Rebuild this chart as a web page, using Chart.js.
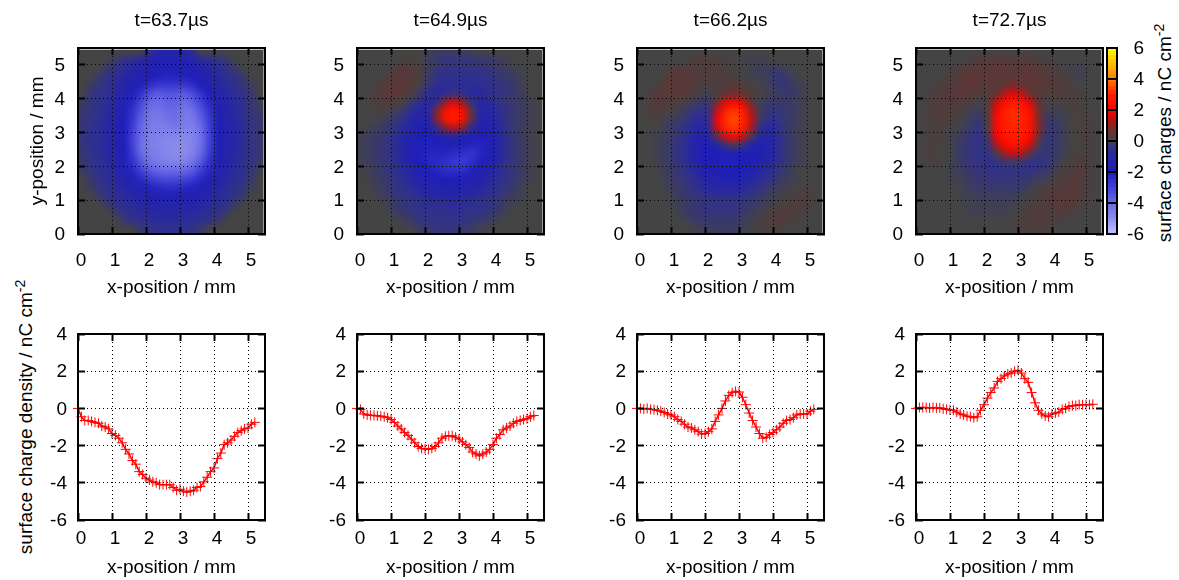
<!DOCTYPE html>
<html>
<head>
<meta charset="utf-8">
<style>
    html, body { margin: 0; padding: 0; background: #fff; overflow: hidden; }
    canvas { position: absolute; }
    .rotated {
        position: absolute;
        font: 19px "Liberation Sans", sans-serif;
        color: #000;
        white-space: nowrap;
        transform: translate(-50%, -50%) rotate(-90deg);
    }
    .rotated sup { font-size: 14px; line-height: 0; }
</style>
<script src="https://cdn.jsdelivr.net/npm/chart.js@4"></script>
</head>
<body>
<div class="rotated" style="left:26px; top:417px">surface charge density / nC cm<sup>-2</sup></div>
<div class="rotated" style="left:1165px; top:133px">surface charges / nC cm<sup>-2</sup></div>
<script>
const panelTitles = ['t=63.7µs', 't=64.9µs', 't=66.2µs', 't=72.7µs'];
const xTitle = 'x-position / mm';
const yTitle = 'y-position / mm';

// colour scale of the maps
const colorStops = [-6, -5, -4, -3, -2, -1, -0.5, -0.25, 0, 0.25, 0.5, 1, 2, 3, 4, 6];
const colorValues = [[192,192,255], [138,138,236], [105,105,230], [62,62,214], [30,30,185], [38,38,165], [50,50,135], [58,58,102], [68,68,68], [84,58,58], [96,54,54], [150,30,30], [255,0,0], [255,35,0], [255,128,0], [255,255,0]];
const colorbarEdges = [-6,-5.75,-5.5,-5.25,-5,-4.75,-4.5,-4.25,-4,-3.75,-3.5,-3.25,-3,-2.75,-2.5,-2.25,-2,-1.75,-1.5,-1.25,-1,-0.75,-0.5,-0.25,0,0.25,0.5,0.75,1,1.25,1.5,1.75,2,2.25,2.5,2.75,3,3.25,3.5,3.75,4,4.25,4.5,4.75,5,5.25,5.5,5.75,6];

// centres of the map cells in mm (rows below run top to bottom)
const cellX = [0.125,0.375,0.625,0.875,1.125,1.375,1.625,1.875,2.125,2.375,2.625,2.875,3.125,3.375,3.625,3.875,4.125,4.375,4.625,4.875,5.125,5.375];
const cellY = [5.375,5.125,4.875,4.625,4.375,4.125,3.875,3.625,3.375,3.125,2.875,2.625,2.375,2.125,1.875,1.625,1.375,1.125,0.875,0.625,0.375,0.125];

const map637 = [
[0,0,0,0,0,0,0,0,-.7,-1.1,-1.2,-1.2,-1.1,-.7,0,0,0,0,0,0,0,0],
[0,0,0,0,-.3,-.5,-.7,-.9,-1.2,-1.5,-1.6,-1.6,-1.5,-1.2,-.9,-.7,-.5,-.3,0,0,0,0],
[0,0,0,-.3,-.5,-.7,-1,-1.3,-1.6,-1.8,-1.9,-1.9,-1.8,-1.6,-1.3,-1,-.7,-.5,-.3,0,0,0],
[0,0,-.3,-.5,-.7,-.9,-1.2,-1.6,-1.9,-2.1,-2.2,-2.2,-2.1,-1.9,-1.6,-1.2,-.9,-.7,-.5,-.3,0,0],
[0,-.2,-.4,-.6,-.8,-1.1,-1.6,-2.1,-2.5,-2.8,-2.8,-2.8,-2.8,-2.5,-2,-1.5,-1.1,-.8,-.6,-.4,-.2,0],
[0,-.4,-.5,-.6,-.9,-1.4,-2,-2.7,-3.4,-3.7,-3.5,-3.5,-3.7,-3.3,-2.7,-1.9,-1.3,-1,-.7,-.5,-.3,0],
[-.2,-.4,-.5,-.7,-1,-1.6,-2.3,-3.2,-3.9,-4.1,-3.8,-3.8,-4.1,-3.8,-3.1,-2.3,-1.5,-1.1,-.8,-.6,-.4,-.1],
[-.3,-.4,-.6,-.8,-1.2,-1.8,-2.6,-3.5,-4.2,-4.4,-4,-4,-4.4,-4.3,-3.5,-2.6,-1.7,-1.2,-.9,-.6,-.4,-.2],
[-.3,-.5,-.6,-.9,-1.3,-1.9,-2.8,-3.8,-4.4,-4.5,-4.3,-4.1,-4.5,-4.5,-3.8,-2.9,-1.9,-1.3,-.9,-.7,-.5,-.3],
[-.4,-.5,-.7,-.9,-1.4,-2,-3,-4,-4.5,-4.6,-4.6,-4.4,-4.6,-4.7,-4.1,-3,-2,-1.4,-1,-.7,-.5,-.3],
[-.4,-.6,-.7,-.9,-1.4,-2,-3.1,-4.1,-4.6,-4.7,-4.8,-4.8,-4.9,-4.8,-4.2,-3.1,-2,-1.4,-1,-.7,-.5,-.3],
[-.4,-.6,-.7,-.9,-1.4,-2,-3.1,-4.2,-4.6,-4.8,-4.9,-5,-5,-4.8,-4.2,-3.1,-2,-1.4,-1,-.7,-.5,-.3],
[-.3,-.5,-.7,-.9,-1.3,-1.9,-2.9,-4,-4.5,-4.7,-4.9,-5,-5,-4.7,-4,-2.9,-1.9,-1.3,-.9,-.7,-.5,-.3],
[-.3,-.5,-.6,-.8,-1.2,-1.7,-2.6,-3.6,-4.3,-4.5,-4.7,-4.8,-4.7,-4.4,-3.6,-2.6,-1.7,-1.2,-.9,-.6,-.5,-.2],
[-.2,-.4,-.6,-.7,-1.1,-1.5,-2.3,-3.1,-3.7,-4,-4.1,-4.1,-4,-3.7,-3,-2.3,-1.5,-1.1,-.8,-.6,-.4,-.1],
[0,-.3,-.5,-.7,-.9,-1.3,-1.8,-2.4,-2.9,-3.2,-3.3,-3.3,-3.2,-2.9,-2.4,-1.8,-1.3,-.9,-.7,-.6,-.3,0],
[0,-.2,-.4,-.6,-.8,-1.1,-1.4,-1.8,-2.2,-2.4,-2.5,-2.5,-2.4,-2.2,-1.8,-1.4,-1.1,-.8,-.6,-.4,-.2,0],
[0,0,-.3,-.5,-.7,-.8,-1.1,-1.4,-1.6,-1.7,-1.8,-1.8,-1.7,-1.6,-1.4,-1.1,-.8,-.7,-.5,-.3,0,0],
[0,0,0,-.3,-.6,-.7,-.8,-1,-1.2,-1.3,-1.3,-1.3,-1.3,-1.2,-1,-.8,-.7,-.6,-.3,0,0,0],
[0,0,0,0,-.3,-.6,-.7,-.8,-.9,-1,-1,-1,-1,-.9,-.8,-.7,-.6,-.3,0,0,0,0],
[0,0,0,0,0,-.3,-.5,-.6,-.7,-.8,-.8,-.8,-.8,-.7,-.6,-.5,-.3,0,0,0,0,0],
[0,0,0,0,0,0,0,-.3,-.5,-.6,-.6,-.6,-.6,-.5,-.3,0,0,0,0,0,0,0]
];

const map649 = [
[0,0,0,0,0,0,0,0,-.1,-.2,-.2,-.2,-.2,-.1,0,0,0,0,0,0,0,0],
[0,0,0,0,0,.1,.1,0,-.2,-.3,-.4,-.4,-.4,-.4,-.3,-.3,-.2,-.1,0,0,0,0],
[0,0,0,0,.1,.3,.3,.1,-.2,-.4,-.5,-.5,-.5,-.5,-.5,-.4,-.3,-.2,-.1,0,0,0],
[0,0,0,.1,.3,.4,.3,.1,-.2,-.5,-.6,-.6,-.6,-.6,-.6,-.5,-.4,-.3,-.2,-.1,0,0],
[0,0,.1,.3,.4,.4,.2,0,-.4,-.7,-.8,-.7,-.7,-.8,-.7,-.6,-.5,-.4,-.3,-.1,0,0],
[0,0,.2,.4,.4,.3,.1,-.3,-.7,-.9,-.7,-.4,-.6,-.9,-.9,-.7,-.5,-.4,-.3,-.2,0,0],
[0,.1,.2,.3,.2,0,-.3,-.7,-1,-.6,1,1.7,.9,-.5,-1,-.9,-.6,-.4,-.3,-.2,-.1,0],
[0,0,.1,0,-.1,-.3,-.7,-1.1,-.9,.8,2.4,2.8,2.2,.4,-1,-1,-.7,-.5,-.3,-.2,-.1,0],
[0,0,0,-.2,-.3,-.6,-1,-1.3,-1.1,.9,2.5,2.9,2.3,.4,-1.1,-1.2,-.9,-.5,-.3,-.2,-.1,0],
[0,-.1,-.2,-.3,-.5,-.8,-1.3,-1.7,-1.6,-.6,.9,1.5,.7,-.7,-1.5,-1.5,-1,-.6,-.3,-.2,-.1,0],
[-.1,-.2,-.3,-.4,-.6,-1,-1.6,-2,-2,-1.7,-1.2,-1,-1.2,-1.7,-2,-1.7,-1.1,-.7,-.4,-.2,-.1,0],
[-.1,-.2,-.3,-.4,-.7,-1.1,-1.7,-2.1,-2.1,-1.9,-1.7,-1.7,-1.9,-2.2,-2.2,-1.8,-1.2,-.7,-.4,-.2,-.1,0],
[-.1,-.2,-.3,-.4,-.7,-1.1,-1.7,-2.1,-2.2,-2.2,-2.2,-2.4,-2.6,-2.7,-2.3,-1.8,-1.2,-.7,-.4,-.2,-.1,0],
[-.1,-.2,-.3,-.4,-.6,-1,-1.5,-2,-2.3,-2.4,-2.6,-2.8,-2.9,-2.6,-2.1,-1.6,-1.1,-.6,-.4,-.2,-.1,0],
[0,-.1,-.3,-.4,-.6,-.9,-1.3,-1.7,-2,-2.3,-2.5,-2.5,-2.5,-2.1,-1.8,-1.3,-.9,-.6,-.4,-.2,-.1,0],
[0,-.1,-.2,-.3,-.5,-.7,-1,-1.4,-1.7,-1.9,-2,-2,-1.9,-1.7,-1.4,-1,-.7,-.5,-.3,-.2,-.1,0],
[0,0,-.2,-.3,-.4,-.6,-.8,-1,-1.3,-1.4,-1.5,-1.5,-1.4,-1.2,-1,-.8,-.6,-.4,-.3,-.1,0,0],
[0,0,-.1,-.2,-.4,-.5,-.6,-.8,-1,-1,-1.1,-1.1,-1,-.9,-.8,-.6,-.5,-.3,-.2,-.1,0,0],
[0,0,0,-.1,-.3,-.4,-.5,-.6,-.7,-.7,-.8,-.8,-.7,-.7,-.6,-.5,-.4,-.2,-.1,0,0,0],
[0,0,0,0,-.2,-.3,-.4,-.5,-.5,-.6,-.6,-.6,-.6,-.5,-.5,-.4,-.3,-.1,0,0,0,0],
[0,0,0,0,0,-.1,-.3,-.4,-.5,-.5,-.5,-.5,-.5,-.4,-.3,-.2,-.1,0,0,0,0,0],
[0,0,0,0,0,0,0,-.2,-.3,-.4,-.4,-.4,-.3,-.2,-.1,0,0,0,0,0,0,0]
];

const map662 = [
[0,0,0,0,0,0,0,0,0,0,0,0,0,0,0,0,0,0,0,0,0,0],
[0,0,0,0,0,0,.1,.2,.2,.1,.1,0,0,-.1,-.1,0,0,0,0,0,0,0],
[0,0,0,0,.2,.3,.2,.2,.2,.2,.1,0,0,-.1,-.2,-.2,-.2,-.1,0,0,0,0],
[0,0,0,.2,.4,.4,.3,.2,.2,.2,.1,.1,0,-.1,-.1,-.2,-.4,-.3,-.1,0,0,0],
[0,0,.1,.4,.4,.4,.3,.1,.1,.1,.2,.3,.2,.1,0,-.1,-.3,-.4,-.2,-.1,0,0],
[0,.1,.3,.4,.4,.3,.2,0,-.1,.1,.5,.7,.5,.2,0,-.1,-.2,-.3,-.3,-.1,0,0],
[0,.2,.3,.3,.2,.1,-.1,-.3,-.3,.6,1.8,2.2,1.7,.4,-.1,-.3,-.3,-.3,-.2,-.1,0,0],
[0,.1,.2,.1,0,-.2,-.4,-.5,-.5,1.5,2.9,3.2,2.8,1.2,-.1,-.4,-.4,-.3,-.2,-.1,0,0],
[0,.1,.1,-.1,-.2,-.3,-.6,-.8,-.6,1.9,3.1,3.5,3,1.5,-.2,-.6,-.5,-.3,-.2,-.1,0,0],
[0,0,0,-.2,-.3,-.5,-.8,-1.1,-.7,1.7,3,3.3,2.8,1.2,-.5,-.9,-.7,-.4,-.2,-.1,0,0],
[0,0,-.1,-.2,-.3,-.6,-1,-1.3,-1.1,.4,1.8,2.2,1.6,.1,-1.1,-1.2,-.8,-.4,-.2,-.1,0,0],
[0,0,-.1,-.2,-.4,-.6,-1.1,-1.5,-1.7,-1.2,-.3,.1,-.4,-1.3,-1.6,-1.3,-.8,-.4,-.2,-.1,0,0],
[0,0,-.1,-.2,-.4,-.6,-1.1,-1.6,-1.9,-2,-1.8,-1.6,-1.7,-1.8,-1.7,-1.3,-.8,-.4,-.2,-.1,0,0],
[0,0,-.1,-.2,-.4,-.6,-1,-1.5,-1.9,-2,-2.1,-2.1,-2,-1.8,-1.5,-1.1,-.7,-.4,-.2,-.1,0,0],
[0,0,0,-.2,-.3,-.5,-.8,-1.2,-1.6,-1.9,-2,-2,-1.9,-1.6,-1.2,-.8,-.5,-.3,-.1,0,0,0],
[0,0,0,-.1,-.3,-.4,-.6,-.9,-1.2,-1.4,-1.6,-1.6,-1.4,-1.1,-.8,-.6,-.3,-.2,-.1,0,0,0],
[0,0,0,-.1,-.2,-.3,-.5,-.7,-.9,-1,-1,-1,-.9,-.7,-.5,-.3,-.2,-.1,0,0,.1,0],
[0,0,0,0,-.2,-.3,-.4,-.5,-.6,-.7,-.7,-.7,-.6,-.5,-.3,-.2,-.1,0,.1,.2,.1,0],
[0,0,0,0,-.1,-.2,-.3,-.4,-.5,-.5,-.5,-.5,-.4,-.3,-.2,-.1,0,.1,.2,.2,.1,0],
[0,0,0,0,0,-.2,-.3,-.4,-.4,-.4,-.4,-.4,-.3,-.2,-.1,.1,.2,.2,.2,.1,0,0],
[0,0,0,0,0,0,-.2,-.3,-.3,-.3,-.3,-.3,-.2,-.1,.1,.2,.2,.2,.1,0,0,0],
[0,0,0,0,0,0,0,-.1,-.2,-.2,-.2,-.2,-.1,0,.1,.1,.1,0,0,0,0,0]
];

const map727 = [
[0,0,0,0,0,0,0,0,0,0,0,0,0,0,0,0,0,0,0,0,0,0],
[0,0,0,0,0,0,.1,.2,.3,.3,.3,.3,.2,.2,.1,.1,0,0,0,0,0,0],
[0,0,0,0,.1,.2,.3,.4,.4,.4,.4,.4,.4,.4,.3,.2,.1,0,-.1,-.1,0,0],
[0,0,0,.1,.2,.3,.4,.5,.4,.4,.4,.4,.4,.5,.4,.3,.2,.1,0,-.1,0,0],
[0,0,.1,.2,.3,.4,.5,.4,.4,.3,.5,.7,.6,.4,.4,.3,.3,.2,.1,0,0,0],
[0,.1,.2,.3,.3,.4,.3,.2,.2,.5,1.3,1.8,1.4,.5,.3,.2,.2,.2,.1,.1,0,0],
[0,.1,.2,.2,.3,.2,.1,0,.1,1.4,2.4,2.7,2.5,1.6,.3,0,.1,.1,.1,.1,0,0],
[0,.1,.2,.2,.2,.1,-.1,-.2,.1,2,2.8,3.1,2.9,2.3,.6,-.1,-.1,0,.1,.1,0,0],
[0,.1,.2,.2,.1,0,-.2,-.3,.1,2.2,2.9,3.1,3,2.5,.8,-.3,-.2,-.1,0,.1,.1,0],
[0,.1,.1,.1,0,-.1,-.3,-.5,0,2.2,2.8,3,2.9,2.5,.8,-.3,-.3,-.1,0,.1,.1,0],
[0,.1,.1,.1,-.1,-.2,-.4,-.5,-.2,2,2.6,2.8,2.7,2.3,.5,-.4,-.3,-.1,0,.1,.1,0],
[0,.1,.1,0,-.1,-.3,-.4,-.5,-.4,1.2,2.3,2.5,2.4,1.6,-.1,-.4,-.3,-.1,0,.1,.1,0],
[0,.1,.1,0,-.1,-.3,-.4,-.5,-.5,0,1.2,1.6,1.3,.2,-.4,-.4,-.3,-.1,.1,.1,.1,0],
[0,.1,.1,0,-.1,-.3,-.4,-.5,-.6,-.5,-.3,-.2,-.3,-.5,-.5,-.4,-.2,0,.1,.2,.1,0],
[0,0,0,0,-.1,-.2,-.3,-.4,-.5,-.5,-.5,-.5,-.5,-.5,-.4,-.3,-.1,.1,.2,.2,.1,0],
[0,0,0,0,-.1,-.1,-.3,-.3,-.4,-.4,-.4,-.4,-.4,-.3,-.2,-.1,.1,.2,.3,.2,.1,0],
[0,0,0,0,0,-.1,-.2,-.3,-.3,-.3,-.3,-.3,-.3,-.1,0,.1,.2,.3,.3,.2,.1,0],
[0,0,0,0,0,-.1,-.1,-.2,-.2,-.2,-.2,-.2,-.1,0,.1,.2,.3,.3,.3,.2,.1,0],
[0,0,0,0,0,0,-.1,-.1,-.1,-.1,-.1,-.1,0,.1,.2,.2,.3,.3,.2,.1,0,0],
[0,0,0,0,0,0,-.1,-.1,-.1,-.1,-.1,0,.1,.2,.2,.2,.2,.2,.1,0,0,0],
[0,0,0,0,0,0,0,0,0,0,0,.1,.1,.2,.2,.2,.1,.1,0,0,0,0],
[0,0,0,0,0,0,0,0,0,0,0,0,.1,.1,.1,.1,0,0,0,0,0,0]
];

// line cuts
const cutX = [0,0.1,0.2,0.3,0.4,0.5,0.6,0.7,0.8,0.9,1,1.1,1.2,1.3,1.4,1.5,1.6,1.7,1.8,1.9,2,2.1,2.2,2.3,2.4,2.5,2.6,2.7,2.8,2.9,3,3.1,3.2,3.3,3.4,3.5,3.6,3.7,3.8,3.9,4,4.1,4.2,4.3,4.4,4.5,4.6,4.7,4.8,4.9,5,5.1,5.2];
const cut637 = [0,-.45,-.65,-.65,-.7,-.75,-.8,-.95,-1,-1.1,-1.35,-1.45,-1.6,-1.85,-2.2,-2.45,-2.8,-3,-3.4,-3.55,-3.75,-3.85,-3.95,-4,-4.1,-4.1,-4.1,-4.1,-4.25,-4.4,-4.35,-4.45,-4.5,-4.45,-4.4,-4.25,-4.2,-3.95,-3.7,-3.4,-3.2,-2.7,-2.4,-1.95,-1.85,-1.7,-1.5,-1.3,-1.2,-1.1,-1.05,-.85,-.75];
const cut649 = [0,-.05,-.3,-.35,-.37,-.38,-.4,-.42,-.45,-.5,-.6,-.75,-.95,-1.1,-1.3,-1.45,-1.65,-1.85,-2.05,-2.15,-2.18,-2.2,-2.15,-2.05,-1.85,-1.6,-1.5,-1.47,-1.47,-1.55,-1.65,-1.8,-1.95,-2.1,-2.35,-2.45,-2.55,-2.45,-2.35,-2.2,-1.95,-1.6,-1.4,-1.15,-1.05,-.95,-.8,-.7,-.65,-.6,-.55,-.45,-.38];
const cut662 = [0,0,-.03,0,-.05,-.07,-.1,-.15,-.22,-.3,-.35,-.45,-.6,-.7,-.85,-1,-1.05,-1.15,-1.25,-1.38,-1.35,-1.25,-1.1,-.7,-.35,0,.4,.7,.85,.92,.88,.6,.2,-.25,-.65,-1,-1.35,-1.6,-1.55,-1.4,-1.3,-1.15,-1,-.8,-.65,-.6,-.5,-.35,-.3,-.3,-.3,-.15,-.05];
const cut727 = [0,.05,.05,.05,.02,.05,.03,.03,-.02,-.05,-.08,-.1,-.2,-.3,-.35,-.42,-.45,-.5,-.45,-.1,.2,.55,.85,1.1,1.45,1.6,1.75,1.85,1.9,2,2.05,1.9,1.6,1.4,.85,.3,-.1,-.3,-.4,-.45,-.3,-.25,-.2,-.05,0,.1,.15,.15,.2,.2,.2,.2,.22];

const maps = [map637, map649, map662, map727];
const cuts = [cut637, cut649, cut662, cut727];

const plotLefts = [78, 357, 637, 916];
const plotWidth = 187;
const marginLeft = 78;
const marginRight = 8;
const font = { family: '"Liberation Sans", sans-serif', size: 19 };

function colorFor(value) {
    let i = 0;
    while (i < colorStops.length - 2 && value > colorStops[i + 1]) i++;
    const f = (value - colorStops[i]) / (colorStops[i + 1] - colorStops[i]);
    const a = colorValues[i], b = colorValues[i + 1];
    const c = a.map((v, k) => Math.round(v + (b[k] - v) * f));
    return `rgb(${c[0]},${c[1]},${c[2]})`;
}

function makeCanvas(left, top, width, height) {
    const canvas = document.createElement('canvas');
    canvas.width = width;
    canvas.height = height;
    canvas.style.left = left + 'px';
    canvas.style.top = top + 'px';
    canvas.style.width = width + 'px';
    canvas.style.height = height + 'px';
    document.body.appendChild(canvas);
    return canvas;
}

// fixes the axis box and drops the label overhang, so the plot areas land where they should
function sized(prop, size) {
    return (scale) => {
        scale[prop] = size;
        scale.paddingTop = 0;
        scale.paddingBottom = 0;
        scale.paddingLeft = 0;
        scale.paddingRight = 0;
    };
}

function mainAxis(position, min, max, step, prop, size, padding, title) {
    return {
        type: 'linear', position, min, max,
        afterFit: sized(prop, size),
        ticks: { stepSize: step, includeBounds: false, autoSkip: false, maxRotation: 0, color: '#000', font, padding, labelOffset: position === 'bottom' ? 3 : 1 },
        grid: { color: '#000', lineWidth: 1, z: 1, tickLength: -7, tickColor: '#000', tickWidth: 2 },
        border: { color: '#000', width: 2, dash: [1, 3], z: 2 },
        title: title
    };
}

function mirrorAxis(position, min, max, step, prop, size) {
    return {
        type: 'linear', position, min, max,
        afterFit: sized(prop, size),
        ticks: { display: false, stepSize: step, includeBounds: false, autoSkip: false },
        grid: { drawOnChartArea: false, z: 1, tickLength: -7, tickColor: '#000', tickWidth: 2 },
        border: { color: '#000', width: 2, z: 2 }
    };
}

// smooths the map cells and leaves the thin unscanned strip at top and right
const smoothCells = {
    id: 'smoothCells',
    beforeDatasetsDraw(chart) {
        const a = chart.chartArea, ctx = chart.ctx;
        ctx.save();
        ctx.fillStyle = 'rgb(68,68,68)';
        ctx.fillRect(a.left, a.top, a.width, a.height);
        ctx.restore();
    },
    afterDatasetsDraw(chart) {
        const a = chart.chartArea, ctx = chart.ctx;
        ctx.save();
        ctx.beginPath();
        ctx.rect(a.left, a.top, a.width, a.height);
        ctx.clip();
        ctx.filter = 'blur(3px)';
        ctx.drawImage(chart.canvas, a.left, a.top, a.width, a.height, a.left, a.top, a.width, a.height);
        ctx.filter = 'none';
        ctx.fillStyle = '#ddd';
        ctx.fillRect(a.left, a.top, a.width, 2);
        ctx.fillStyle = '#999';
        ctx.fillRect(a.right - 2, a.top, 2, a.height);
        ctx.restore();
    }
};

function drawMap(i) {
    const points = [], colors = [];
    maps[i].forEach((row, r) => {
        row.forEach((value, c) => {
            points.push({ x: cellX[c], y: cellY[r] });
            colors.push(colorFor(value));
        });
    });
    const canvas = makeCanvas(plotLefts[i] - marginLeft, 0, marginLeft + plotWidth + marginRight, 310);
    new Chart(canvas.getContext('2d'), {
        type: 'scatter',
        data: { datasets: [{ data: points, pointStyle: 'rect', pointRadius: 6.8, pointBorderWidth: 0, pointBackgroundColor: colors }] },
        plugins: [smoothCells],
        options: {
            responsive: false, animation: false, devicePixelRatio: 1, events: [],
            layout: { padding: 0, autoPadding: false },
            plugins: {
                legend: { display: false }, tooltip: { enabled: false },
                title: { display: true, text: panelTitles[i], fullSize: false, color: '#000', font: { ...font, weight: 'normal', lineHeight: 1.2 }, padding: { top: 9, bottom: 4 } }
            },
            scales: {
                x: mainAxis('bottom', 0, 5.5, 1, 'height', 76, 22, { display: true, text: xTitle, color: '#000', font, padding: { top: 0, bottom: 11 } }),
                y: mainAxis('left', 0, 5.5, 1, 'width', marginLeft, 20, { display: i === 0, text: yTitle, color: '#000', font, padding: { top: 26, bottom: 26 } }),
                xTop: mirrorAxis('top', 0, 5.5, 1, 'height', 12),
                yRight: mirrorAxis('right', 0, 5.5, 1, 'width', marginRight)
            }
        }
    });
}

function drawCut(i) {
    const points = cutX.map((x, k) => ({ x, y: cuts[i][k] }));
    const canvas = makeCanvas(plotLefts[i] - marginLeft, 310, marginLeft + plotWidth + marginRight, 270);
    new Chart(canvas.getContext('2d'), {
        type: 'scatter',
        data: { datasets: [{ data: points, showLine: true, clip: false, borderColor: '#ff0000', borderWidth: 1.5, pointStyle: 'cross', pointRadius: 5, pointBorderWidth: 1, pointBorderColor: '#ff0000' }] },
        options: {
            responsive: false, animation: false, devicePixelRatio: 1, events: [],
            layout: { padding: 0, autoPadding: false },
            plugins: { legend: { display: false }, tooltip: { enabled: false } },
            scales: {
                x: mainAxis('bottom', 0, 5.5, 1, 'height', 60, 14, { display: true, text: xTitle, color: '#000', font, padding: { top: 0, bottom: 1 } }),
                y: mainAxis('left', -6, 4, 2, 'width', marginLeft, 18),
                xTop: mirrorAxis('top', 0, 5.5, 1, 'height', 24),
                yRight: mirrorAxis('right', -6, 4, 2, 'width', marginRight)
            }
        }
    });
}

function drawColorbar() {
    const datasets = [];
    for (let k = 0; k < colorbarEdges.length - 1; k++) {
        const mid = (colorbarEdges[k] + colorbarEdges[k + 1]) / 2;
        datasets.push({
            data: [[colorbarEdges[k], colorbarEdges[k + 1] + 0.03]],
            backgroundColor: colorFor(mid),
            barPercentage: 1, categoryPercentage: 1, grouped: false
        });
    }
    const canvas = makeCanvas(1103, 0, 41, 310);
    new Chart(canvas.getContext('2d'), {
        type: 'bar',
        data: { labels: [''], datasets },
        options: {
            responsive: false, animation: false, devicePixelRatio: 1, events: [],
            layout: { padding: { left: 4, top: 48, bottom: 76 }, autoPadding: false },
            plugins: { legend: { display: false }, tooltip: { enabled: false } },
            scales: {
                x: { display: true, afterFit: sized('height', 0), ticks: { display: false }, grid: { display: false, drawTicks: false }, border: { color: '#000', width: 2, z: 2 } },
                xTop: { type: 'category', labels: [''], position: 'top', afterFit: sized('height', 0), ticks: { display: false }, grid: { display: false, drawTicks: false }, border: { color: '#000', width: 2, z: 2 } },
                y: {
                    position: 'right', min: -6, max: 6, afterFit: sized('width', 27),
                    ticks: { stepSize: 2, includeBounds: false, color: '#000', font, crossAlign: 'far', padding: 4, labelOffset: 1 },
                    grid: { color: '#000', lineWidth: 2, z: 1, drawTicks: false },
                    border: { color: '#000', width: 2, z: 2 }
                },
                yLeft: { position: 'left', min: -6, max: 6, afterFit: sized('width', 0), ticks: { display: false }, grid: { display: false, drawTicks: false }, border: { color: '#000', width: 2, z: 2 } }
            }
        }
    });
}

for (let i = 0; i < 4; i++) {
    drawMap(i);
    drawCut(i);
}
drawColorbar();
</script>
</body>
</html>
